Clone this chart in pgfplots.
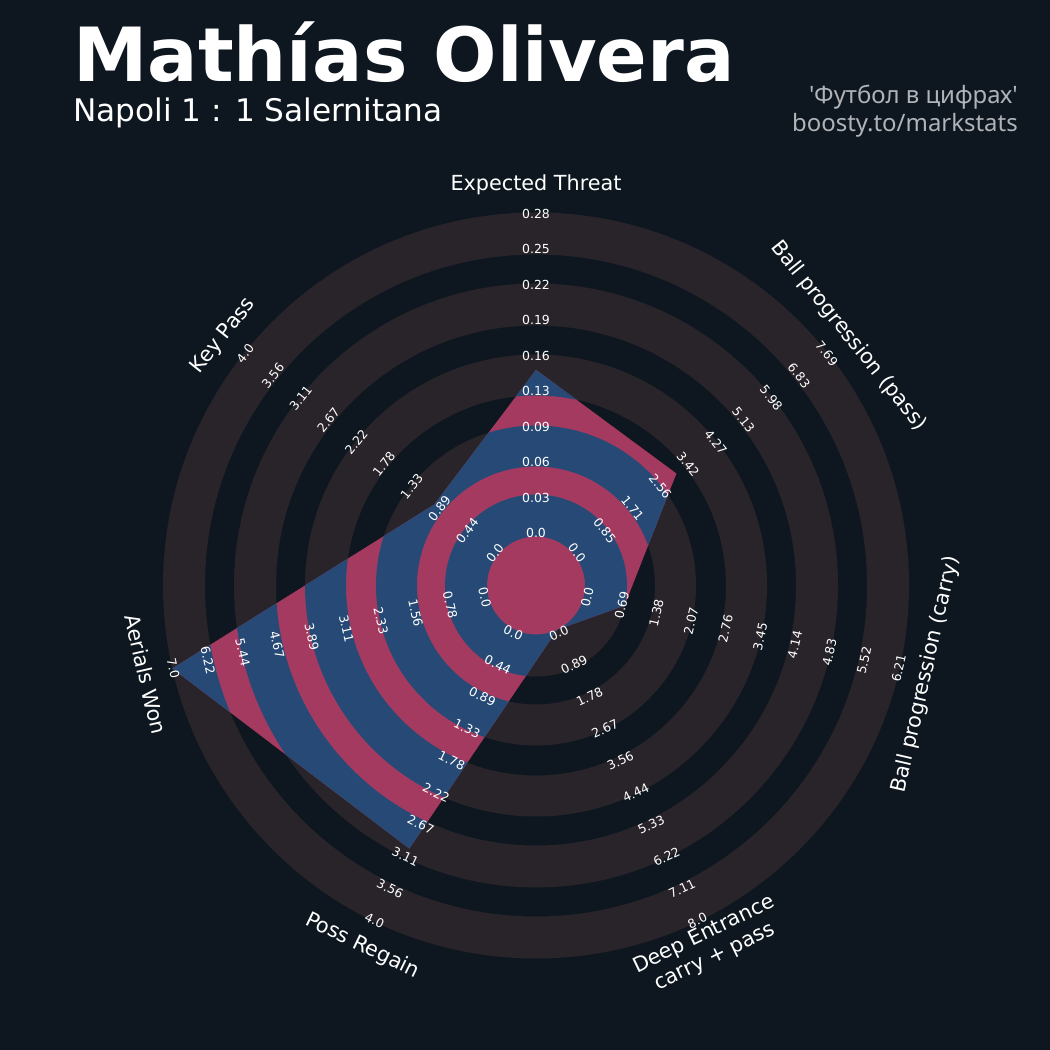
\documentclass[border=0pt]{standalone}
\usepackage{pgfplots}
\usepackage{pgfplotstable}
\pgfplotsset{compat=1.18}
\usepackage{fontspec}
\setmainfont{DejaVu Sans}
\newfontfamily\notosans{Noto Sans}
\definecolor{bgc}{RGB}{14,23,31}
\definecolor{ringc}{RGB}{40,36,42}
\definecolor{pinkc}{RGB}{165,58,96}
\definecolor{bluec}{RGB}{38,74,117}
\definecolor{greytxt}{RGB}{176,179,184}

\pgfplotstableread{
ang val max
90 0.144 0.28
38.571 3.1 7.69
-12.857 0.8 6.21
-64.286 0.0 8.0
-115.714 3.0 4.0
-167.143 7.0 7.0
141.429 1.0 4.0
90 0.144 0.28
}\radar

\newcommand{\ringpath}{(axis cs:536,464.5) circle[radius=373] circle[radius=331] circle[radius=302] circle[radius=260] circle[radius=231] circle[radius=190] circle[radius=160] circle[radius=119] circle[radius=91] circle[radius=49]}

\begin{document}
\begin{tikzpicture}[x=0.72bp,y=0.72bp]
\fill[bgc] (0,0) rectangle (1050,1050);
\begin{axis}[at={(0,0)}, anchor=south west, scale only axis,
  width=756bp, height=756bp, xmin=0, xmax=1050, ymin=0, ymax=1050,
  hide axis, clip=false]
\fill[ringc, even odd rule] \ringpath;
\addplot[fill=pinkc, draw=none, path picture={\fill[bluec, even odd rule, path picture={}] \ringpath;}]
  table[x expr={536+(49+324*\thisrow{val}/\thisrow{max})*cos(\thisrow{ang})},
        y expr={464.5+(49+324*\thisrow{val}/\thisrow{max})*sin(\thisrow{ang})}] {\radar};
\end{axis}

% range labels
\foreach \ang/\rot/\labs in {%
90/0/{0.0,0.03,0.06,0.09,0.13,0.16,0.19,0.22,0.25,0.28},%
38.571/-51.429/{0.0,0.85,1.71,2.56,3.42,4.27,5.13,5.98,6.83,7.69},%
-12.857/77.143/{0.0,0.69,1.38,2.07,2.76,3.45,4.14,4.83,5.52,6.21},%
-64.286/25.714/{0.0,0.89,1.78,2.67,3.56,4.44,5.33,6.22,7.11,8.0},%
-115.714/-25.714/{0.0,0.44,0.89,1.33,1.78,2.22,2.67,3.11,3.56,4.0},%
192.857/-77.143/{0.0,0.78,1.56,2.33,3.11,3.89,4.67,5.44,6.22,7.0},%
141.429/51.429/{0.0,0.44,0.89,1.33,1.78,2.22,2.67,3.11,3.56,4.0}%
}{%
  \foreach \t [count=\k from 0] in \labs {%
    \node[text=white, inner sep=0pt, rotate=\rot, font=\fontsize{9}{10.8}\selectfont]
      at ({536+(52.5+35.5*\k)*cos(\ang)}, {464.5+(52.5+35.5*\k)*sin(\ang)}) {\t};
  }%
}

% parameter labels
\tikzset{plab/.style={text=white, inner sep=0pt, align=center, font=\fontsize{15}{18}\selectfont}}
\node[plab] at (536,865) {Expected Threat};
\node[plab, rotate=-51.429] at (848.7,714) {Ball progression (pass)};
\node[plab, rotate=77.143] at (926,375.5) {Ball progression (carry)};
\node[plab, rotate=25.714] at (709.6,104.1) {Deep Entrance\\carry + pass};
\node[plab, rotate=-25.714] at (362.4,104.1) {Poss Regain};
\node[plab, rotate=-77.143] at (146,375.5) {Aerials Won};
\node[plab, rotate=51.429] at (223.3,714) {Key Pass};

% titles
\node[anchor=base west, inner sep=0pt, text=white, font=\fontsize{54}{60}\selectfont\bfseries] at (73,968) {Mathías Olivera};
\node[anchor=base west, inner sep=0pt, text=white, font=\fontsize{22.5}{26}\selectfont] at (73,928) {Napoli 1 : 1 Salernitana};
\node[anchor=base east, inner sep=0pt, text=greytxt, font=\fontsize{17.3}{20}\selectfont\notosans] at (1018,946) {'Футбол в цифрах'};
\node[anchor=base east, inner sep=0pt, text=greytxt, font=\fontsize{17.3}{20}\selectfont\notosans] at (1018,918) {boosty.to/markstats};
\end{tikzpicture}
\end{document}
